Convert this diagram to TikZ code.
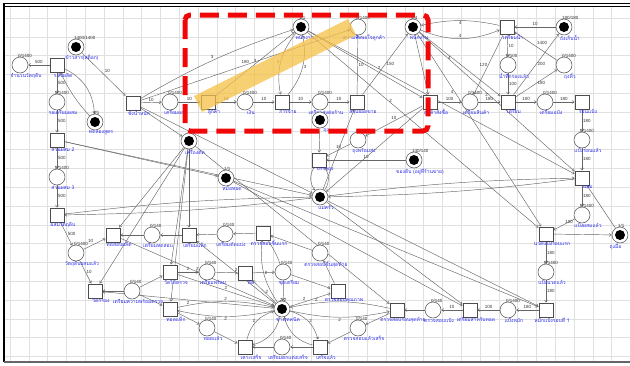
\documentclass[tikz,border=0pt]{standalone}
\usepackage{fontspec}
\setmainfont{Liberation Sans}
\newfontfamily\thaifont[Script=Thai]{Loma}
\usetikzlibrary{arrows.meta}
\pgfdeclarelayer{gridlayer}
\pgfdeclarelayer{arclayer}
\pgfsetlayers{gridlayer,arclayer,main}
\definecolor{lblue}{RGB}{40,40,235}
\definecolor{hlband}{RGB}{246,192,70}
\definecolor{redmark}{RGB}{240,8,8}
\begin{document}
\begin{tikzpicture}[x=1pt,y=-1pt,
  gridln/.style={draw=black!12,line width=0.6pt},
  place/.style={circle,draw=black!70,line width=0.5pt,fill=white,minimum size=16pt,inner sep=0pt},
  token/.style={place,path picture={\fill[black] (path picture bounding box.center) circle[radius=5pt];}},
  trans/.style={rectangle,draw=black!70,line width=0.5pt,fill=white,minimum size=14.5pt,inner sep=0pt},
  mkst/.style={font=\fontsize{4.5}{5}\selectfont,text=black!80,inner sep=0.4pt},
  nmst/.style={font=\thaifont\fontsize{5}{6}\selectfont,text=lblue,inner sep=0.4pt},
  mtext/.style={label={[mkst,anchor=south west,xshift=-2.5pt,yshift=-1pt]north:#1}},
  ntext/.style={label={[nmst,anchor=north,xshift=6pt,yshift=0.5pt]south:#1}},
  arc/.style={draw=black!60,line width=0.45pt,-{Straight Barb[length=2.2pt,width=3pt]}},
  wt/.style={font=\fontsize{4.5}{5}\selectfont,text=black!80,inner sep=1pt},
]
\useasboundingbox (0,0) rectangle (630,365);

% background grid and frame
\begin{pgfonlayer}{gridlayer}
  \foreach \i in {0,...,32} \draw[gridln] ({10+18.8*\i},6) -- ({10+18.8*\i},361);
  \foreach \j in {0,...,18} \draw[gridln] (4,{18+18.8*\j}) -- (630,{18+18.8*\j});
  \draw[line width=0.9pt] (3,3.2) -- (630,3.2);
  \draw[line width=0.9pt] (3,6) -- (630,6);
  \draw[line width=1.4pt] (4,3) -- (4,362);
  \draw[line width=1.6pt,black!60] (4,362) -- (630,362);
\end{pgfonlayer}

% ---------- places, tokens and transitions ----------
\node[place,mtext=0/1400,ntext=จำนวนวัตถุดิบ] (pA) at (20,65) {};
\node[trans,ntext=ร.สั่งผลิต] (tA) at (57,65) {};
\node[token,mtext=1400/1400,ntext=ข้าวสาร(สต็อก)] (kA) at (76,47) {};
\node[place,mtext=0/1400,ntext=รอเตรียมผสม] (pB) at (57,102) {};
\node[token,mtext=1/1,ntext=ทดลองสูตร] (kB) at (95,122) {};
\node[trans,ntext=ชั่งน้ำหนัก] (tB) at (133,103) {};
\node[place,mtext=0/1400,ntext=เตรียมผสม] (pC) at (170,102) {};
\node[trans,ntext=ลูกค้า] (tC) at (208,102) {};
\node[place,mtext=0/1400,ntext=เงิน] (pD) at (245,102) {};
\node[trans,ntext=การจ่าย] (tD) at (282,102) {};
\node[place,mtext=0/1400,ntext=เตรียมส่งต่อร้าน] (pE) at (320,102) {};
\node[trans,ntext=สรุปยอดขาย] (tE) at (357,102) {};
\node[token,mtext=1/1,ntext=พนักงาน 1] (kC) at (301,27) {};
\node[place,mtext=0/1400,ntext=ความพึงพอใจลูกค้า] (pF) at (358,27) {};
\node[token,mtext=4/4,ntext=พนักงาน] (kD) at (413,27) {};
\node[trans,ntext=ลูกค้าสั่งซื้อ] (tF) at (430,102) {};
\node[place,mtext=0/1400,ntext=เตรียมสินค้า] (pG) at (470,102) {};
\node[trans,ntext=เตรียมน้ำ] (tG) at (507,27) {};
\node[token,mtext=180/180,ntext=ถังเก็บน้ำ] (kE) at (564,27) {};
\node[place,mtext=0/100,ntext=น้ำที่กรองแล้ว] (pH) at (508,65) {};
\node[place,mtext=0/1400,ntext=ถุงหิ้ว] (pI) at (564,65) {};
\node[trans,ntext=เตรียม] (tH) at (508,102) {};
\node[place,mtext=0/1400,ntext=เตรียมแป้ง] (pJ) at (545,102) {};
\node[trans,ntext=ร่อนแป้ง] (tI) at (582,102) {};
\node[place,mtext=0/1400,ntext=แป้งร่อนแล้ว] (pK) at (582,140) {};
\node[trans,ntext=ผสม] (tJ) at (582,178) {};
\node[place,mtext=0/1400,ntext=แป้งผสมแล้ว] (pL) at (582,215) {};
\node[trans,ntext=นวดแป้งรอบแรก] (tK) at (546,234) {};
\node[token,mtext=1/1,label={[nmst,anchor=north east,xshift=2pt]south:ถุงมือ}] (kK) at (620,235) {};
\node[place,mtext=0/1400,ntext=แป้งนวดแล้ว] (pM) at (546,272) {};
\node[trans,ntext=หมักแป้งรอบที่ 1] (tL) at (546,310) {};
\node[place,mtext=0/1400,ntext=แป้งหมัก] (pN) at (508,310) {};
\node[trans,ntext=เตรียมสำหรับทอด] (tM) at (470,310) {};
\node[place,mtext=0/140,ntext=ตรวจสอบแป้ง] (pO) at (433,310) {};
\node[trans,ntext=ตรวจสอบรอบสุดท้าย] (tN) at (397,310) {};
\node[place,mtext=0/1400,ntext=ถุงพร้อมส่ง] (pP) at (358,140) {};
\node[trans,ntext=บรรจุถุง] (tO) at (319,160) {};
\node[token,ntext=ถุง] (kG) at (320,120) {};
\node[token,mtext=140/140,ntext=ของดิบ (อยู่ที่ร้านขาย)] (kH) at (414,160) {};
\node[token,mtext=1/1,ntext=หม้อทอด] (kI) at (226,178) {};
\node[token,ntext=แม่ครัว] (kJ) at (320,197) {};
\node[token,ntext=เครื่องตัด] (kF) at (189,141) {};
\node[trans,ntext=ส่วนผสม 2] (tP) at (57,140) {};
\node[place,mtext=0/1400,ntext=ส่วนผสม 3] (pQ) at (57,177) {};
\node[trans,ntext=ผสมวัตถุดิบ] (tQ) at (57,215) {};
\node[place,mtext=0/1400,ntext=วัตถุดิบผสมแล้ว] (pR) at (76,253) {};
\node[trans,ntext=ทดสอบผลิต] (tR) at (113,235) {};
\node[place,mtext=0/140,ntext=เตรียมทดสอบ] (pS) at (152,235) {};
\node[trans,ntext=เตรียมแท็ก] (tS) at (189,235) {};
\node[place,mtext=0/140,ntext=เตรียมตัดแบ่ง] (pT) at (225,234) {};
\node[trans,ntext=ตรวจสอบชิ้นแรก] (tT) at (263,233) {};
\node[trans,ntext=วัดกรอง] (tU) at (95,291) {};
\node[place,mtext=0/140,ntext=เตรียมความพร้อมตรวจ] (pU) at (132,291) {};
\node[trans,ntext=วัดได้ตรวจ] (tV) at (170,272) {};
\node[place,mtext=0/140,ntext=เตรียมพร้อม] (pV) at (207,272) {};
\node[trans,ntext=ตัด] (tW) at (245,273) {};
\node[place,mtext=0/140,ntext=ชุดเตรียม] (pW) at (283,272) {};
\node[place,mtext=0/140,ntext=ตรวจสอบชิ้นสุดท้าย] (pX) at (320,253) {};
\node[trans,ntext=ตรวจสอบคุณภาพ] (tAA) at (338,291) {};
\node[token,mtext=2/2,ntext=ช่างเทคนิค] (kL) at (282,309) {};
\node[trans,ntext=ทอดแท็ก] (tX) at (170,309) {};
\node[place,mtext=0/140,ntext=ทอดแล้ว] (pY) at (207,328) {};
\node[trans,ntext=เคาะเสร็จ] (tY) at (245,347) {};
\node[place,mtext=0/140,ntext=เตรียมตกแต่งเสร็จ] (pZ) at (282,347) {};
\node[trans,ntext=เสร็จแล้ว] (tZ) at (320,347) {};
\node[place,mtext=0/140,ntext=ตรวจสอบแล้วเสร็จ] (pAA) at (358,328) {};

% ---------- arcs ----------
\begin{pgfonlayer}{arclayer}
% left column
\draw[arc] (tA) -- node[wt,above]{500} (pA);
\draw[arc] (kA) -- node[wt,above right]{10} (tB);
\draw[arc] (tA) -- node[wt,right]{500} (pB);
\draw[arc] (pB) -- node[wt,right]{500} (tP);
\draw[arc] (tP) -- node[wt,right]{500} (pQ);
\draw[arc] (pQ) -- node[wt,right]{500} (tQ);
\draw[arc] (tQ) -- node[wt,right]{500} (pR);
\draw[arc] (tA) to[bend left=30] (kB);
\draw[arc] (kB) to[bend left=8] (tA);
\draw[arc] (pR) -- node[wt,above left]{10} (tR);
\draw[arc] (pR) -- node[wt,right]{10} (tU);
% top production chain
\draw[arc] (tB) -- node[wt,above]{10} (pC);
\draw[arc] (pC) -- node[wt,above]{10} (tC);
\draw[arc] (tC) -- node[wt,above]{10} (pD);
\draw[arc] (pD) -- node[wt,above]{10} (tD);
\draw[arc] (tD) -- node[wt,above]{10} (pE);
\draw[arc] (pE) -- node[wt,above]{10} (tE);
\draw[arc] (tE) -- node[wt,right]{10} (pF);
\draw[arc] (tF) -- node[wt,above]{100} (pG);
\draw[arc] (pG) -- node[wt,above]{180} (tH);
\draw[arc] (tH) -- node[wt,above]{100} (pJ);
\draw[arc] (pJ) -- node[wt,above]{180} (tI);
\draw[arc] (tI) -- node[wt,right]{180} (pK);
\draw[arc] (pK) -- node[wt,right]{180} (tJ);
\draw[arc] (tJ) -- node[wt,right]{180} (pL);
\draw[arc] (pL) -- node[wt,above right]{100} (tK);
\draw[arc] (tK) -- (kK);
\draw[arc] (kK) -- (tJ);
\draw[arc] (tK) -- node[wt,right]{180} (pM);
\draw[arc] (pM) -- node[wt,right]{180} (tL);
\draw[arc] (tL) -- node[wt,above]{180} (pN);
\draw[arc] (pN) -- node[wt,above]{100} (tM);
\draw[arc] (tM) -- node[wt,above]{10} (pO);
\draw[arc] (pO) -- (tN);
% water and bags
\draw[arc] (kE) -- node[wt,above]{10} (tG);
\draw[arc] (tG) -- node[wt,right]{10} (pH);
\draw[arc] (pH) -- node[wt,right]{100} (tH);
\draw[arc] (tH) -- node[wt,right]{200} (kE);
\draw[arc] (tH) -- node[wt,right]{180} (pI);
\draw[arc] (pI) -- node[wt,above right]{1400} (tG);
\draw[arc] (tG) -- node[wt,left]{120} (pG);
\draw[arc] (kD) to[bend right=22] node[wt,above]{4} (tG);
\draw[arc] (tG) to[bend right=12] node[wt,below]{4} (kD);
% staff
\draw[arc] (tB) to[bend left=6] node[wt,above left]{3} (kC);
\draw[arc] (tC) -- node[wt,above]{3} (kC);
\draw[arc] (tB) -- node[wt,above]{180} (pF);
\draw[arc] (kC) to[bend right=25] node[wt,left]{2} (tD);
\draw[arc] (tD) to[bend right=25] node[wt,right]{3} (kC);
\draw[arc] (kC) -- node[wt,above right,pos=0.6]{2} (tF);
\draw[arc] (kC) -- (tJ);
\draw[arc] (kC) -- node[wt,right,pos=0.35]{2} (tK);
\draw[arc] (kD) -- node[wt,left,pos=0.4]{4} (tH);
\draw[arc] (kD) -- node[wt,left,pos=0.3]{4} (tK);
\draw[arc] (kD) -- node[wt,left,pos=0.45]{2} (tJ);
\draw[arc] (tE) -- node[wt,right]{150} (kD);
\draw[arc] (kD) -- (tF);
% bagging
\draw[arc] (tF) -- node[wt,above]{10} (pP);
\draw[arc] (pP) -- node[wt,above]{10} (tO);
\draw[arc] (kH) -- node[wt,above]{10} (tO);
\draw[arc] (kG) -- (tO);
\draw[arc] (tO) to[bend right=35] (kJ);
\draw[arc] (kJ) to[bend right=35] (tO);
% cook
\draw[arc] (tB) -- (kJ);
\draw[arc] (kJ) -- (tE);
\draw[arc] (tF) -- (kJ);
\draw[arc] (kJ) to[bend left=3] (tJ);
\draw[arc] (tJ) to[bend left=3] (kJ);
\draw[arc] (tQ) to[bend left=3] (kJ);
\draw[arc] (kJ) to[bend left=3] (tQ);
\draw[arc] (tP) -- (kJ);
\draw[arc] (kJ) -- (tL);
\draw[arc] (kJ) -- (tM);
% pot
\draw[arc] (tP) -- (kI);
\draw[arc] (kI) -- (tM);
\draw[arc] (kI) -- (tL);
% cutter
\draw[arc] (tB) -- (kF);
\draw[arc] (kF) -- (tR);
\draw[arc] (kF) -- (tS);
\draw[arc] (kF) -- (tU);
\draw[arc] (kF) -- (tV);
\draw[arc] (kF) -- (tX);
\draw[arc] (kF) -- (tN);
% lower network
\draw[arc] (tS) -- (pS);
\draw[arc] (pS) -- (tR);
\draw[arc] (pT) -- (tS);
\draw[arc] (tT) -- (pT);
\draw[arc] (pX) -- (tT);
\draw[arc] (tAA) -- (pX);
\draw[arc] (pU) -- (tU);
\draw[arc] (pU) -- (tV);
\draw[arc] (pU) -- (tX);
\draw[arc] (tV) -- node[wt,above]{2} (pV);
\draw[arc] (pV) -- (tW);
\draw[arc] (tW) -- (pW);
\draw[arc] (pW) -- (tAA);
\draw[arc] (tX) -- (pY);
\draw[arc] (pY) -- (tY);
\draw[arc] (pZ) -- (tY);
\draw[arc] (tZ) -- (pZ);
\draw[arc] (pAA) -- (tZ);
\draw[arc] (tN) -- (pAA);
% technician
\draw[arc] (tV) -- node[wt,above]{2} (kL);
\draw[arc] (kL) -- node[wt,right]{2} (tW);
\draw[arc] (tX) to[bend left=12] node[wt,above]{2} (kL);
\draw[arc] (kL) to[bend left=12] node[wt,below]{2} (tX);
\draw[arc] (tY) to[bend left=30] node[wt,left]{2} (kL);
\draw[arc] (kL) to[bend left=30] (tY);
\draw[arc] (tZ) to[bend left=30] (kL);
\draw[arc] (kL) to[bend left=30] node[wt,right]{2} (tZ);
\draw[arc] (tT) to[bend left=20] (kL);
\draw[arc] (kL) to[bend left=20] node[wt,right]{2} (tT);
\draw[arc] (kL) -- node[wt,above,pos=0.35]{2} (tAA);
\draw[arc] (tN) to[bend right=12] node[wt,above,pos=0.75]{2} (kL);
\draw[arc] (kL) to[bend right=12] node[wt,below]{2} (tN);
\draw[arc] (tR) -- node[wt,above]{2} (kL);
\draw[arc] (kL) -- node[wt,above]{2} (tS);
\draw[arc] (kL) -- node[wt,below]{2} (tU);
\end{pgfonlayer}

% ---------- highlight overlays ----------
\fill[hlband,fill opacity=0.75] (202,112) -- (194,96) -- (348,19) -- (356,35) -- cycle;
\draw[redmark,line width=5pt,dash pattern=on 19pt off 9pt,rounded corners=5pt] (185,15) rectangle (428,131);
\end{tikzpicture}
\end{document}
